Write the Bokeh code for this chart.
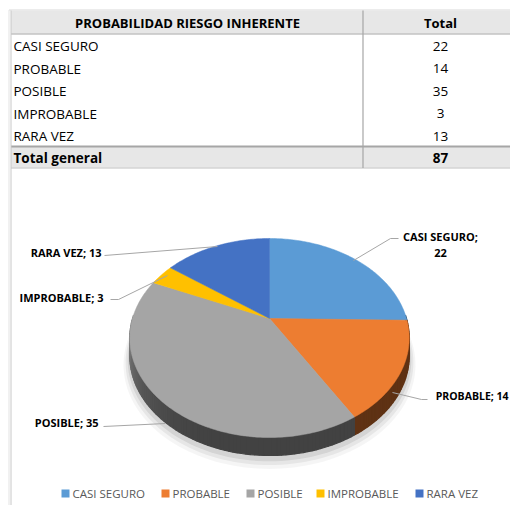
import math
from bokeh.plotting import figure
from bokeh.models import Range1d
from bokeh.core.properties import value
from bokeh.embed import file_html
from bokeh.resources import INLINE

# ---------------- data ----------------
categories = ["CASI SEGURO", "PROBABLE", "POSIBLE", "IMPROBABLE", "RARA VEZ"]
totals = [22, 14, 35, 3, 13]
colors = ["#5b9bd5", "#ed7d31", "#a5a5a5", "#ffc000", "#4472c4"]
header = ["PROBABILIDAD RIESGO INHERENTE", "Total"]
total_label = "Total general"

FONT = value("Open Sans")

p = figure(width=510, height=505, x_range=Range1d(0, 510), y_range=Range1d(505, 0),
           output_backend="svg", toolbar_location=None,
           x_axis_location=None, y_axis_location=None,
           min_border=0, min_border_left=0, min_border_right=0,
           min_border_top=0, min_border_bottom=0)
p.grid.visible = False
p.outline_line_color = None
p.background_fill_color = "white"
p.border_fill_color = "white"

# ---------------- table ----------------
TL, TR, DIV = 10.5, 512, 362.5
p.line([8.5, 512], [9.5, 9.5], line_color="#d9d9d9", line_width=1)
p.line([8.5, 8.5], [9.5, 513], line_color="#e3e3e3", line_width=1)
p.quad(left=TL, right=TR, top=10, bottom=33, fill_color="#e7e7e7", line_color=None)
p.quad(left=TL, right=TR, top=146, bottom=167, fill_color="#e7e7e7", line_color=None)
p.line([TL, TR], [33.5, 33.5], line_color="#a6a6a6", line_width=1.2)
p.line([TL, TR], [146, 146], line_color="#a6a6a6", line_width=2)
p.line([TL, TR], [167.5, 167.5], line_color="#bfbfbf", line_width=1.2)
p.line([TL, TL], [10, 513], line_color="#c8c8c8", line_width=1)
p.line([DIV, DIV], [10, 167.5], line_color="#a6a6a6", line_width=1.2)

p.text(x=[187, 440], y=[22, 22], text=header, text_font=FONT, text_font_style="bold",
       text_font_size="13px", text_align="center", text_baseline="middle", text_color="#000000")
row_y = [45.5 + 22.6 * i for i in range(len(categories))]
p.text(x=[13] * len(categories), y=row_y, text=categories, text_font=FONT,
       text_font_size="13.5px", text_align="left", text_baseline="middle", text_color="#000000")
p.text(x=[440] * len(categories), y=row_y, text=[str(v) for v in totals], text_font=FONT,
       text_font_size="13.5px", text_align="center", text_baseline="middle", text_color="#000000")
p.text(x=[13], y=[157], text=[total_label], text_font=FONT, text_font_style="bold",
       text_font_size="13.5px", text_align="left", text_baseline="middle", text_color="#000000")
p.text(x=[440], y=[157], text=[str(sum(totals))], text_font=FONT, text_font_style="bold",
       text_font_size="13.5px", text_align="center", text_baseline="middle", text_color="#000000")

# ---------------- 3D pie ----------------
CX, CY, A, B, K, DEPTH = 269, 318, 95.7, 137, 0.196, 18


def proj(theta_deg, dy=0.0, scale=1.0):
    t = math.radians(theta_deg)
    d = 1 + K * math.cos(t)
    return CX + scale * B * math.sin(t) / d, CY - scale * A * math.cos(t) / d + dy


total = sum(totals)
bounds = [0.0]
for v in totals:
    bounds.append(bounds[-1] + 360.0 * v / total)

# soft shadow
for sc, dy, al in [(1.045, 8, 0.04), (1.03, 6, 0.06), (1.015, 4, 0.08)]:
    pts = [proj(t, DEPTH + dy, sc) for t in range(0, 361, 2)]
    p.patch([q[0] for q in pts], [q[1] for q in pts], fill_color="#000000",
            fill_alpha=al, line_color=None)


def hex_scale(hexc, f):
    r, g, b = int(hexc[1:3], 16), int(hexc[3:5], 16), int(hexc[5:7], 16)
    return "#%02x%02x%02x" % tuple(max(0, min(255, int(round(c * f)))) for c in (r, g, b))


def shade(theta):
    if theta <= 195:
        return 0.40
    u = (theta - 195) / 75.0
    return 0.40 + 0.42 * u * u


side_xs, side_ys, side_cols = [], [], []
for i in range(len(totals)):
    a0, a1 = max(bounds[i], 88.0), min(bounds[i + 1], 272.0)
    if a1 <= a0:
        continue
    n = max(1, int((a1 - a0) / 1.5))
    for j in range(n):
        t0 = a0 + (a1 - a0) * j / n
        t1 = a0 + (a1 - a0) * (j + 1) / n
        p0, p1 = proj(t0), proj(t1)
        q1, q0 = proj(t1, DEPTH), proj(t0, DEPTH)
        side_xs.append([p0[0], p1[0], q1[0], q0[0]])
        side_ys.append([p0[1], p1[1], q1[1], q0[1]])
        side_cols.append(hex_scale(colors[i], shade((t0 + t1) / 2)))
p.patches(side_xs, side_ys, fill_color=side_cols, line_color=side_cols, line_width=1.2)

top_xs, top_ys = [], []
for i in range(len(totals)):
    a0, a1 = bounds[i], bounds[i + 1]
    n = max(2, int((a1 - a0) / 1.0))
    pts = [(CX, CY)] + [proj(a0 + (a1 - a0) * j / n) for j in range(n + 1)]
    top_xs.append([q[0] for q in pts])
    top_ys.append([q[1] for q in pts])
p.patches(top_xs, top_ys, fill_color=colors, line_color=colors, line_width=0.5)

# ---------------- data labels ----------------
LBL = dict(text_font=FONT, text_font_style="bold", text_font_size="11px",
           text_baseline="middle", text_color="#000000")
LEAD = dict(line_color="#a6a6a6", line_width=1)

# CASI SEGURO
p.line([353, 390, 398], [260, 238, 238], **LEAD)
p.text(x=[440], y=[236], text=[categories[0] + ";"], text_align="center", **LBL)
p.text(x=[440], y=[252], text=[str(totals[0])], text_align="center", **LBL)
# PROBABLE
p.line([392, 421, 427], [392, 399, 399], **LEAD)
p.text(x=[508], y=[395], text=[f"{categories[1]}; {totals[1]}"], text_align="right",
       **{**LBL, "text_font_size": "10.5px"})
# POSIBLE
p.line([103, 165], [426, 423], **LEAD)
p.text(x=[98], y=[422], text=[f"{categories[2]}; {totals[2]}"], text_align="right", **LBL)
# IMPROBABLE
p.line([110, 118, 167], [299, 299, 275], **LEAD)
p.text(x=[103], y=[297], text=[f"{categories[3]}; {totals[3]}"], text_align="right", **LBL)
# RARA VEZ
p.line([104, 217], [255, 246], **LEAD)
p.text(x=[101], y=[252], text=[f"{categories[4]}; {totals[4]}"], text_align="right", **LBL)

# ---------------- legend ----------------
leg_x = [61, 161, 246, 316, 415]
LY = 493
p.rect(x=[x + 4 for x in leg_x], y=[LY] * 5, width=8, height=8, fill_color=colors, line_color=None)
p.text(x=[x + 11 for x in leg_x], y=[LY] * 5, text=categories, text_font=FONT,
       text_font_size="11.5px", text_align="left", text_baseline="middle", text_color="#595959")

open("out.html", "w").write(file_html(p, INLINE))
